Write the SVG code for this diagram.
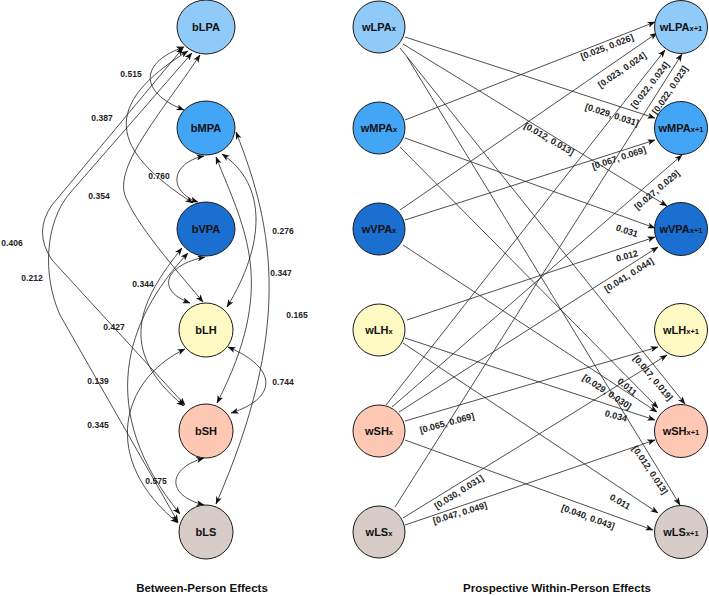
<svg xmlns="http://www.w3.org/2000/svg" width="709" height="596" viewBox="0 0 709 596">
<style>
.n{stroke:#1a1a1a;stroke-width:1}
.lpa{fill:#90caf9}.mpa{fill:#42a5f5}.vpa{fill:#1b6fd0}.lh{fill:#fff9c4}.sh{fill:#ffc8b4}.ls{fill:#d7ccc8}
.t{font-family:"Liberation Sans",Arial,sans-serif;font-weight:bold;font-size:11px;fill:#111;text-anchor:middle;dominant-baseline:central}
.s{font-size:7.5px}
.e{fill:none;stroke:#222;stroke-width:0.8}
.b{marker-start:url(#a);marker-end:url(#a)}
.d{marker-end:url(#a)}
.l{font-family:"Liberation Sans",Arial,sans-serif;font-weight:bold;font-size:8.5px;fill:#222;text-anchor:middle;dominant-baseline:central}
.r{font-size:9px}
.h{font-family:"Liberation Sans",Arial,sans-serif;font-weight:bold;font-size:11.5px;fill:#111;text-anchor:middle}
</style>
<defs>
<marker id="a" viewBox="0 0 8 6" refX="7.5" refY="3" markerWidth="8" markerHeight="6" markerUnits="userSpaceOnUse" orient="auto-start-reverse">
<path d="M0,0 L8,3 L0,6 L2,3 z" fill="#111"/>
</marker>
</defs>

<g id="connectors">
<!-- between-person -->
<path class="e b" d="M184,47 C140,62 138,92 184,110"/>
<path class="e b" d="M188,51 C100,105 110,150 193,203"/>
<path class="e b" d="M204,156 C170,163 168,192 198,202"/>
<path class="e b" d="M200,55 C160,115 110,170 127,200 C140,230 185,280 203,302"/>
<path class="e b" d="M183,48 L52,205 Q33,232 52,260 L185,405"/>
<path class="e b" d="M192,53 L70,193 C45,222 42,275 60,315 L178,522"/>
<path class="e b" d="M222,154 C268,185 265,245 227,307"/>
<path class="e b" d="M216,157 C245,230 278,285 217,403"/>
<path class="e b" d="M236,132 C275,230 292,330 216,504"/>
<path class="e b" d="M205,257 C165,265 155,290 190,303"/>
<path class="e b" d="M182,248 C140,300 115,350 184,406"/>
<path class="e b" d="M188,253 C125,320 95,410 180,514"/>
<path class="e b" d="M185,349 C120,380 100,460 178,523"/>
<path class="e b" d="M228,347 C278,368 278,398 231,413"/>
<path class="e b" d="M204,458 C168,468 165,495 204,505"/>
<!-- within-person -->
<path class="e d" d="M405,37 L655,118"/>
<path class="e d" d="M403,44 L667,206"/>
<path class="e d" d="M400,48 L685,404"/>
<path class="e d" d="M407,57 L680,505"/>
<path class="e d" d="M405,120 L655,22"/>
<path class="e d" d="M405,138 L655,228"/>
<path class="e d" d="M400,147 L658,408"/>
<path class="e d" d="M400,210 L657,33"/>
<path class="e d" d="M405,220 L655,140"/>
<path class="e d" d="M403,245 L657,412"/>
<path class="e d" d="M407,320 L655,237"/>
<path class="e d" d="M405,338 L655,420"/>
<path class="e d" d="M403,343 L658,513"/>
<path class="e d" d="M386,405 L665,50"/>
<path class="e d" d="M392,407 L682,155"/>
<path class="e d" d="M399,412 L658,247"/>
<path class="e d" d="M405,421 L658,347"/>
<path class="e d" d="M405,440 L653,530"/>
<path class="e d" d="M395,507 L682,54"/>
<path class="e d" d="M403,518 L667,355"/>
<path class="e d" d="M405,525 L655,440"/>
</g>

<g id="edge-labels">
<text class="l" x="131" y="74">0.515</text>
<text class="l" x="102" y="118">0.387</text>
<text class="l" x="159" y="176">0.760</text>
<text class="l" x="99" y="196">0.354</text>
<text class="l" x="12" y="243">0.406</text>
<text class="l" x="32" y="278">0.212</text>
<text class="l" x="283" y="231">0.276</text>
<text class="l" x="143" y="284">0.344</text>
<text class="l" x="281" y="273">0.347</text>
<text class="l" x="297" y="315">0.165</text>
<text class="l" x="114" y="327">0.427</text>
<text class="l" x="98" y="381">0.139</text>
<text class="l" x="283" y="382">0.744</text>
<text class="l" x="98" y="425">0.345</text>
<text class="l" x="156" y="481">0.575</text>

<text class="l r" x="612" y="115" transform="rotate(18 612 115)">[0.029, 0.031]</text>
<text class="l r" x="549" y="139" transform="rotate(30 549 139)">[0.012, 0.013]</text>
<text class="l r" x="653" y="378" transform="rotate(50 653 378)">[0.017, 0.019]</text>
<text class="l r" x="650" y="470" transform="rotate(56 650 470)">[0.012, 0.013]</text>
<text class="l r" x="607" y="47" transform="rotate(-21 607 47)">[0.025, 0.026]</text>
<text class="l r" x="627" y="231" transform="rotate(18 627 231)">0.031</text>
<text class="l r" x="627" y="387" transform="rotate(40 627 387)">0.011</text>
<text class="l r" x="622" y="70" transform="rotate(-34 622 70)">[0.023, 0.024]</text>
<text class="l r" x="619" y="158" transform="rotate(-18 619 158)">[0.067, 0.069]</text>
<text class="l r" x="607" y="392" transform="rotate(33 607 392)">[0.029, 0.030]</text>
<text class="l r" x="627" y="256" transform="rotate(-15 627 256)">0.012</text>
<text class="l r" x="616" y="416" transform="rotate(15 616 416)">0.034</text>
<text class="l r" x="620" y="502" transform="rotate(30 620 502)">0.011</text>
<text class="l r" x="650" y="85" transform="rotate(-52 650 85)">[0.022, 0.024]</text>
<text class="l r" x="657" y="190" transform="rotate(-40 657 190)">[0.027, 0.029]</text>
<text class="l r" x="629" y="275" transform="rotate(-32 629 275)">[0.041, 0.044]</text>
<text class="l r" x="447" y="423" transform="rotate(-15 447 423)">[0.065, 0.069]</text>
<text class="l r" x="588" y="517" transform="rotate(20 588 517)">[0.040, 0.043]</text>
<text class="l r" x="670" y="90" transform="rotate(-56 670 90)">[0.022, 0.023]</text>
<text class="l r" x="459" y="492" transform="rotate(-32 459 492)">[0.030, 0.031]</text>
<text class="l r" x="460" y="513" transform="rotate(-17 460 513)">[0.047, 0.049]</text>
</g>

<g id="bLPA"><ellipse class="n lpa" cx="206" cy="27" rx="29" ry="27"/><text class="t" x="206" y="27">bLPA</text></g>
<g id="bMPA"><ellipse class="n mpa" cx="206" cy="128" rx="29" ry="27"/><text class="t" x="206" y="128">bMPA</text></g>
<g id="bVPA"><ellipse class="n vpa" cx="206" cy="229" rx="29" ry="27"/><text class="t" x="206" y="229">bVPA</text></g>
<g id="bLH"><ellipse class="n lh" cx="206" cy="330" rx="27" ry="27"/><text class="t" x="206" y="330">bLH</text></g>
<g id="bSH"><ellipse class="n sh" cx="206" cy="431" rx="27" ry="27"/><text class="t" x="206" y="431">bSH</text></g>
<g id="bLS"><ellipse class="n ls" cx="206" cy="532" rx="27" ry="27"/><text class="t" x="206" y="532">bLS</text></g>

<g id="wLPAx"><ellipse class="n lpa" cx="379" cy="27" rx="26" ry="26"/><text class="t" x="379" y="27">wLPA<tspan class="s" dy="1">x</tspan></text></g>
<g id="wMPAx"><ellipse class="n mpa" cx="379" cy="128" rx="26" ry="26"/><text class="t" x="379" y="128">wMPA<tspan class="s" dy="1">x</tspan></text></g>
<g id="wVPAx"><ellipse class="n vpa" cx="379" cy="229" rx="26" ry="26"/><text class="t" x="379" y="229">wVPA<tspan class="s" dy="1">x</tspan></text></g>
<g id="wLHx"><ellipse class="n lh" cx="379" cy="330" rx="26" ry="26"/><text class="t" x="379" y="330">wLH<tspan class="s" dy="1">x</tspan></text></g>
<g id="wSHx"><ellipse class="n sh" cx="379" cy="431" rx="26" ry="26"/><text class="t" x="379" y="431">wSH<tspan class="s" dy="1">x</tspan></text></g>
<g id="wLSx"><ellipse class="n ls" cx="379" cy="532" rx="26" ry="26"/><text class="t" x="379" y="532">wLS<tspan class="s" dy="1">x</tspan></text></g>

<g id="wLPAx1"><ellipse class="n lpa" cx="681" cy="27" rx="26.5" ry="26.5"/><text class="t" x="681" y="27">wLPA<tspan class="s" dy="1">x+1</tspan></text></g>
<g id="wMPAx1"><ellipse class="n mpa" cx="681" cy="128" rx="26.5" ry="26.5"/><text class="t" x="681" y="128">wMPA<tspan class="s" dy="1">x+1</tspan></text></g>
<g id="wVPAx1"><ellipse class="n vpa" cx="681" cy="229" rx="26.5" ry="26.5"/><text class="t" x="681" y="229">wVPA<tspan class="s" dy="1">x+1</tspan></text></g>
<g id="wLHx1"><ellipse class="n lh" cx="681" cy="330" rx="26.5" ry="26.5"/><text class="t" x="681" y="330">wLH<tspan class="s" dy="1">x+1</tspan></text></g>
<g id="wSHx1"><ellipse class="n sh" cx="681" cy="431" rx="26.5" ry="26.5"/><text class="t" x="681" y="431">wSH<tspan class="s" dy="1">x+1</tspan></text></g>
<g id="wLSx1"><ellipse class="n ls" cx="681" cy="532" rx="26.5" ry="26.5"/><text class="t" x="681" y="532">wLS<tspan class="s" dy="1">x+1</tspan></text></g>

<g id="titles">
<text class="h" x="202" y="592">Between-Person Effects</text>
<text class="h" x="557" y="592">Prospective Within-Person Effects</text>
</g>
</svg>
